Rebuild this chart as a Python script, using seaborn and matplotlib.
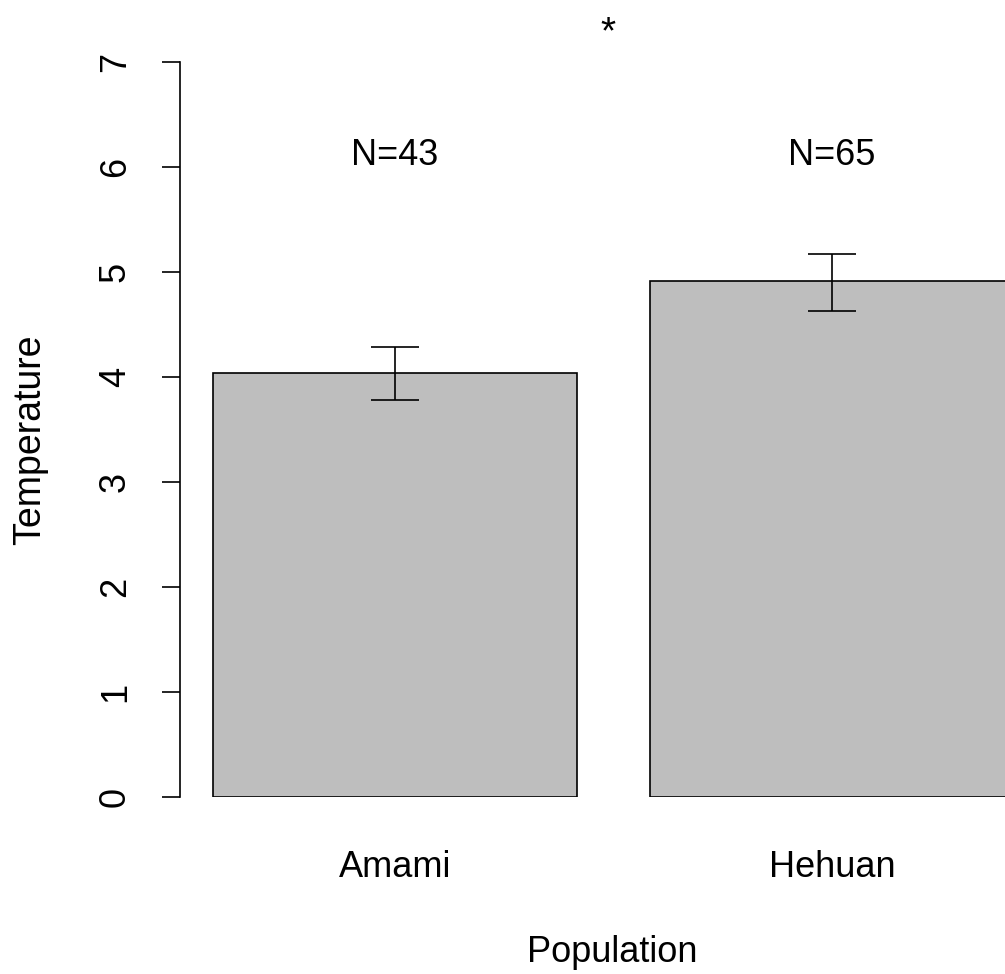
import numpy as np
import pandas as pd
import seaborn as sns
from matplotlib import pyplot as plt

# %% Data
Populations = ['Amami', 'Hehuan']
MeanTemp = [4.04, 4.91]
SeLow = [0.26, 0.28]
SeHigh = [0.25, 0.26]
NLabels = ['N=43', 'N=65']

dfData = pd.DataFrame({'Population': Populations, 'Temperature': MeanTemp})

# %% Style
sns.set_style('white')
plt.rcParams['font.family'] = ['Liberation Sans', 'DejaVu Sans']
plt.rcParams['text.color'] = 'black'
plt.rcParams['axes.labelcolor'] = 'black'
plt.rcParams['xtick.color'] = 'black'
plt.rcParams['ytick.color'] = 'black'
FontSize = 26

fig = plt.figure(figsize=(10.05, 9.74), dpi=100)
ax = fig.add_axes([180 / 1005, 177 / 974, 825 / 1005, 735 / 974])

sns.barplot(data=dfData, x='Population', y='Temperature',
            color='#bebebe', edgecolor='black', linewidth=1.2,
            width=0.833, saturation=1, ax=ax)

ax.errorbar(x=np.arange(len(Populations)), y=MeanTemp,
            yerr=[SeLow, SeHigh], fmt='none', ecolor='black',
            elinewidth=1.2, capsize=17, capthick=1.2)

for i, lab in enumerate(NLabels):
    ax.text(i, 6.11, lab, ha='center', va='center', fontsize=FontSize)

ax.text(0.487, 7.27, '*', ha='center', va='center', fontsize=FontSize + 2,
        clip_on=False)

ax.set_xlim(-0.492, 1.396)
ax.set_ylim(0, 7)
ax.set_yticks(range(0, 8))
ax.set_yticklabels([str(v) for v in range(0, 8)], rotation=90, va='center',
                   fontsize=FontSize)
ax.tick_params(axis='y', direction='out', length=13, width=1.2, pad=21,
               left=True, colors='black')
ax.tick_params(axis='x', length=0, pad=38, labelsize=FontSize, colors='black')

for s in ('top', 'right', 'bottom'):
    ax.spines[s].set_visible(False)
ax.spines['left'].set_linewidth(1.2)
ax.spines['left'].set_color('black')

ax.set_xlabel('Population', fontsize=FontSize, va='center')
ax.xaxis.set_label_coords(0.524, -0.211)
ax.set_ylabel('Temperature', fontsize=FontSize + 1, va='center')
ax.yaxis.set_label_coords(-0.182, 0.486)

fig.savefig('out.png', dpi=100)
